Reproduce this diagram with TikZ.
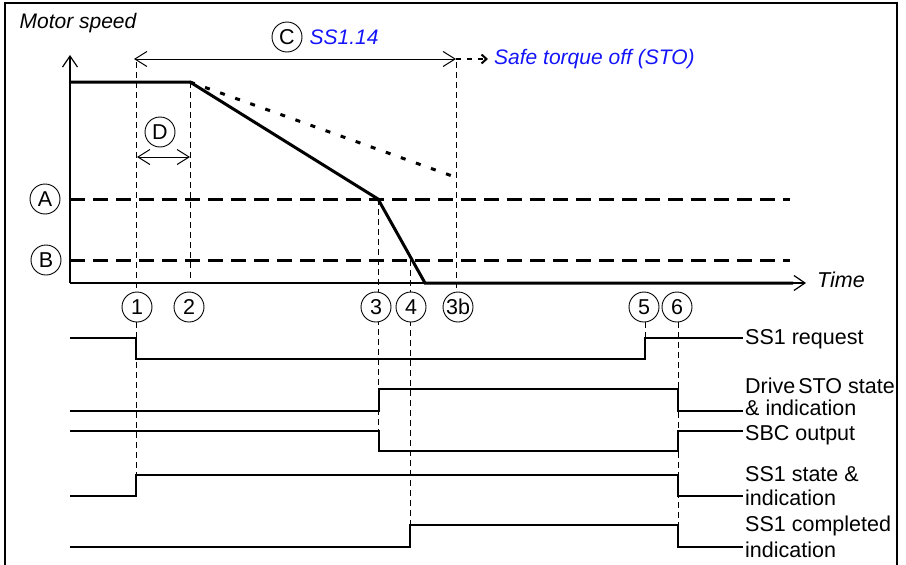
\documentclass[tikz,border=0pt]{standalone}
\usepackage{fontspec}
\setmainfont{Liberation Sans}
\usetikzlibrary{arrows.meta, positioning}

\definecolor{stoblue}{RGB}{20,20,250}
\newcommand{\lblsize}{\fontsize{21.5}{23}\selectfont}

\begin{document}
\begin{tikzpicture}[
    x=1pt, y=-1pt,
    every node/.style={font=\lblsize, inner sep=1pt},
    circlbl/.style={circle, draw, fill=white, minimum size=30pt, inner sep=0pt, line width=0.9pt},
    guide/.style={draw, dash pattern=on 6pt off 4pt, line width=1pt},
    threshold/.style={draw, dash pattern=on 15pt off 8pt, line width=3pt},
    coast/.style={draw, dash pattern=on 5pt off 11pt, line width=3pt},
    speed/.style={draw, line width=3pt, line join=miter},
    sig/.style={draw, line width=1.2pt},
    span/.style={draw, line width=1pt, {Straight Barb[length=12pt,width=15pt]}-{Straight Barb[length=12pt,width=15pt]}},
    axisline/.style={draw, line width=1.2pt, -{Straight Barb[length=11pt,width=15pt]}},
    stoarrow/.style={draw, line width=2pt, dash pattern=on 5pt off 6pt, -{Straight Barb[length=5pt,width=9pt]}},
    lbl/.style={anchor=west, inner sep=2pt}
]

\useasboundingbox (0,0) rectangle (906,565);
\draw[line width=1.3pt] (5,565) -- (5,3) -- (897,3) -- (897,565);

% speed axes
\node (title) at (78,23) {\fontsize{21}{23}\selectfont\itshape Motor speed};
\coordinate (origin) at (70,283);
\coordinate (ytop) at (70,55);
\coordinate (xend) at (806,283);
\node[anchor=west] (timelbl) at (816,280) {\itshape Time};
\path[axisline] (origin) -- (ytop);
\path[axisline] (origin) -- (xend);

% time instants
\coordinate (c1) at (136,62);
\coordinate (c2) at (190,82);
\coordinate (c3) at (378,199);
\coordinate (c4) at (410,260);
\coordinate (c3b) at (456,62);

\path[guide] (c1) -- (136,475);
\path[guide] (c2) -- (190,283);
\path[guide] (c3) -- (378,430);
\path[guide] (c4) -- (410,525);
\path[guide] (c3b) -- (456,290);
\path[guide] (645,292) -- (645,338);
\path[guide] (678,292) -- (678,525);

% limits
\node[circlbl] (markA) at (45,199) {A};
\node[circlbl] (markB) at (46,260) {B};
\path[threshold] (origin |- markA) -- (790,199);
\path[threshold] (origin |- markB) -- (790,260);

% speed ramp
\path[coast] (c2) -- (455,177);
\path[speed] (70,82) -- (c2) -- (c3) -- (425,283) -- (793,283);

% SS1 time
\node[circlbl] (markC) at (287,37) {C};
\node[right=6pt of markC, text=stoblue] (ss114) {\fontsize{21}{23}\selectfont\itshape SS1.14};
\coordinate (cL) at (134,59);
\coordinate (cR) at (456,59);
\path[span] (cL) -- (cR);
\coordinate (stoend) at (488,59);
\path[stoarrow] (cR) -- (stoend);
\node[right=5pt of stoend, text=stoblue] (stolbl) {\fontsize{21}{23}\selectfont\itshape Safe torque off (STO)};

\node[circlbl] (markD) at (160,132) {D};
\path[span] (137,157) -- (190,157);

\node[circlbl] (t1) at (137,307) {1};
\node[circlbl] (t2) at (189,307) {2};
\node[circlbl] (t3) at (376,307) {3};
\node[circlbl] (t4) at (411,307) {4};
\node[circlbl] (t3b) at (458,307) {3b};
\node[circlbl] (t5) at (644,307) {5};
\node[circlbl] (t6) at (677,307) {6};

% signals
\node[lbl] (lblreq) at (743,339) {SS1 request};
\node[lbl] (lblsto) at (743,386) {Drive\hspace{3pt}STO state};
\node[lbl] (lblstob) at (743,408) {\& indication};
\node[lbl] (lblsbc) at (743,435) {SBC output};
\node[lbl] (lblss1) at (743,474) {SS1 state \&};
\node[lbl] (lblss1b) at (743,498) {indication};
\node[lbl] (lbldone) at (743,526) {SS1 completed};
\node[lbl] (lbldoneb) at (743,550) {indication};

\path[sig] (70,338) -| (136,359) -| (645,338) -- (lblreq.west |- 0,338);
\path[sig] (70,411) -| (379,389) -| (678,411) -- (lblstob.west |- 0,411);
\path[sig] (70,431) -| (379,451) -| (678,431) -- (lblsbc.west |- 0,431);
\path[sig] (70,496) -| (136,475) -| (678,496) -- (lblss1b.west |- 0,496);
\path[sig] (70,547) -| (410,525) -| (678,547) -- (lbldoneb.west |- 0,547);

\end{tikzpicture}
\end{document}
